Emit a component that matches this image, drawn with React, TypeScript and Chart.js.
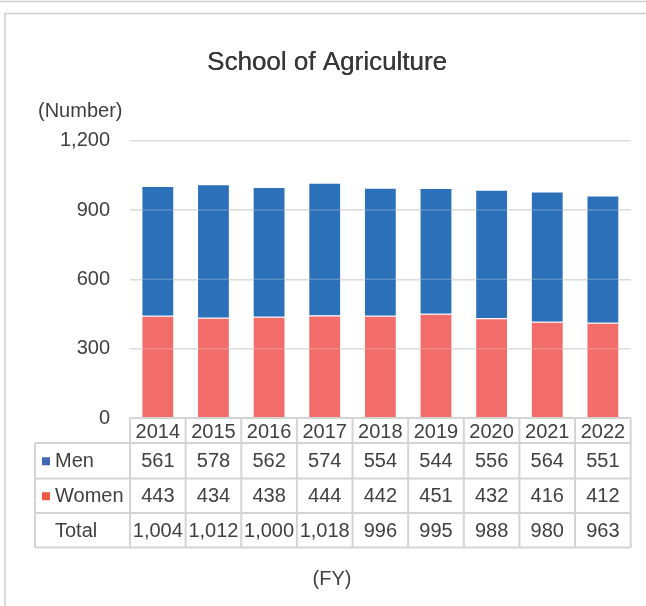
import React, { useEffect, useRef } from "react";
import { Chart, registerables } from "chart.js";

Chart.register(...registerables);

const years: string[] = ["2014", "2015", "2016", "2017", "2018", "2019", "2020", "2021", "2022"];
const men: number[] = [561, 578, 562, 574, 554, 544, 556, 564, 551];
const women: number[] = [443, 434, 438, 444, 442, 451, 432, 416, 412];
const totals: number[] = [1004, 1012, 1000, 1018, 996, 995, 988, 980, 963];
const yTicks: number[] = [0, 300, 600, 900, 1200];

const FONT = "'Liberation Sans', Arial, sans-serif";
const TEXT = "#404040";
const GRID = "#D9D9D9";
const MEN_BAR = "#2B70B8";
const WOMEN_BAR = "#F26D6A";
const MEN_KEY = "#4467B5";
const WOMEN_KEY = "#EE5A42";

const fmt = (v: number) => v.toLocaleString("en-US");

const decorPlugin = {
  id: "decor",
  beforeDraw(chart: any) {
    const { ctx, width, height } = chart;
    ctx.save();
    ctx.fillStyle = "#ffffff";
    ctx.fillRect(0, 0, width, height);
    ctx.strokeStyle = "#CFCFCF";
    ctx.lineWidth = 1.5;
    ctx.beginPath();
    ctx.moveTo(0, 1.5);
    ctx.lineTo(width, 1.5);
    ctx.stroke();
    ctx.beginPath();
    ctx.moveTo(5, height + 5);
    ctx.lineTo(5, 13.5);
    ctx.lineTo(width + 5, 13.5);
    ctx.stroke();
    // title
    ctx.fillStyle = "#383838";
    ctx.font = `26px ${FONT}`;
    ctx.textAlign = "center";
    ctx.textBaseline = "alphabetic";
    ctx.fillText("School of Agriculture", 327, 70);
    ctx.fillText("School of Agriculture", 327.3, 70);
    // unit label
    ctx.font = `20px ${FONT}`;
    ctx.textAlign = "left";
    ctx.textBaseline = "middle";
    ctx.fillStyle = TEXT;
    ctx.fillText("(Number)", 38, 111);
    // FY label
    ctx.textAlign = "center";
    ctx.fillText("(FY)", 332, 579);
    ctx.restore();
  },
  afterDatasetsDraw(chart: any) {
    const { ctx, chartArea, scales } = chart;
    const y = scales.y;
    ctx.save();
    ctx.strokeStyle = "rgba(230,230,230,0.25)";
    ctx.lineWidth = 1.5;
    yTicks.forEach((t) => {
      if (t === 0) return;
      const py = y.getPixelForValue(t);
      ctx.beginPath();
      ctx.moveTo(chartArea.left, py);
      ctx.lineTo(chartArea.right, py);
      ctx.stroke();
    });
    ctx.restore();
  },
  afterDraw(chart: any) {
    const { ctx, chartArea, scales } = chart;
    const x = scales.x;
    const n = years.length;
    const colW = (chartArea.right - chartArea.left) / n;
    const leftCol = 35;
    const top = chartArea.bottom;
    const rowEdges = [top, top + 25, top + 60.5, top + 95, top + 129.5];
    ctx.save();
    ctx.strokeStyle = "#D4D4D4";
    ctx.lineWidth = 2;
    ctx.beginPath();
    ctx.moveTo(chartArea.left, rowEdges[0]);
    ctx.lineTo(chartArea.right, rowEdges[0]);
    for (let r = 1; r < rowEdges.length; r++) {
      ctx.moveTo(leftCol, rowEdges[r]);
      ctx.lineTo(chartArea.right, rowEdges[r]);
    }
    ctx.moveTo(leftCol, rowEdges[1]);
    ctx.lineTo(leftCol, rowEdges[4]);
    for (let i = 0; i <= n; i++) {
      const px = chartArea.left + i * colW;
      ctx.moveTo(px, rowEdges[0]);
      ctx.lineTo(px, rowEdges[4]);
    }
    ctx.stroke();

    ctx.fillStyle = TEXT;
    ctx.font = `20px ${FONT}`;
    ctx.textAlign = "center";
    ctx.textBaseline = "middle";
    const mid = (r: number) => (rowEdges[r] + rowEdges[r + 1]) / 2 + (r === 0 ? 2 : 1);
    years.forEach((yr, i) => {
      const cx = x.getPixelForValue(i);
      ctx.fillText(yr, cx, mid(0));
      ctx.fillText(fmt(men[i]), cx, mid(1));
      ctx.fillText(fmt(women[i]), cx, mid(2));
      ctx.fillText(fmt(totals[i]), cx, mid(3));
    });
    ctx.textAlign = "left";
    ctx.fillStyle = MEN_KEY;
    ctx.fillRect(42, mid(1) - 4.5, 8, 8);
    ctx.fillStyle = WOMEN_KEY;
    ctx.fillRect(42, mid(2) - 4.5, 8, 8);
    ctx.fillStyle = TEXT;
    ctx.fillText("Men", 55, mid(1));
    ctx.fillText("Women", 55, mid(2));
    ctx.fillText("Total", 55, mid(3));
    ctx.restore();
  },
};

export default function App() {
  const ref = useRef<HTMLCanvasElement | null>(null);
  useEffect(() => {
    if (!ref.current) return;
    const chart = new Chart(ref.current, {
      type: "bar",
      data: {
        labels: years,
        datasets: [
          {
            label: "Women",
            data: women,
            backgroundColor: WOMEN_BAR,
            borderColor: "rgba(255,255,255,0.45)",
            borderWidth: 1,
            barPercentage: 0.59,
            categoryPercentage: 1,
          },
          {
            label: "Men",
            data: men,
            backgroundColor: MEN_BAR,
            borderColor: "rgba(255,255,255,0.45)",
            borderWidth: 1,
            barPercentage: 0.59,
            categoryPercentage: 1,
          },
        ],
      },
      options: {
        animation: false,
        responsive: false,
        devicePixelRatio: 1,
        layout: { padding: { left: 0, right: 15.3, top: 140.7, bottom: 188 } },
        plugins: {
          legend: { display: false },
          title: { display: false },
          tooltip: { enabled: false },
        },
        scales: {
          x: {
            stacked: true,
            display: false,
          },
          y: {
            stacked: true,
            min: 0,
            max: 1200,
            afterFit: (scale: any) => {
              scale.width = 130;
            },
            afterBuildTicks: (scale: any) => {
              scale.ticks = yTicks.map((v) => ({ value: v }));
            },
            border: { display: false },
            grid: { color: GRID, lineWidth: 1.5, drawTicks: false },
            ticks: {
              padding: 20,
              color: TEXT,
              font: { family: FONT, size: 20 },
              callback: (v: any) => fmt(Number(v)),
            },
          },
        },
      },
      plugins: [decorPlugin],
    });
    return () => chart.destroy();
  }, []);
  return (
    <div style={{ position: "absolute", left: 0, top: 0, width: 646, height: 606, background: "#fff" }}>
      <canvas ref={ref} width={646} height={606} style={{ display: "block", width: 646, height: 606 }} />
    </div>
  );
}
